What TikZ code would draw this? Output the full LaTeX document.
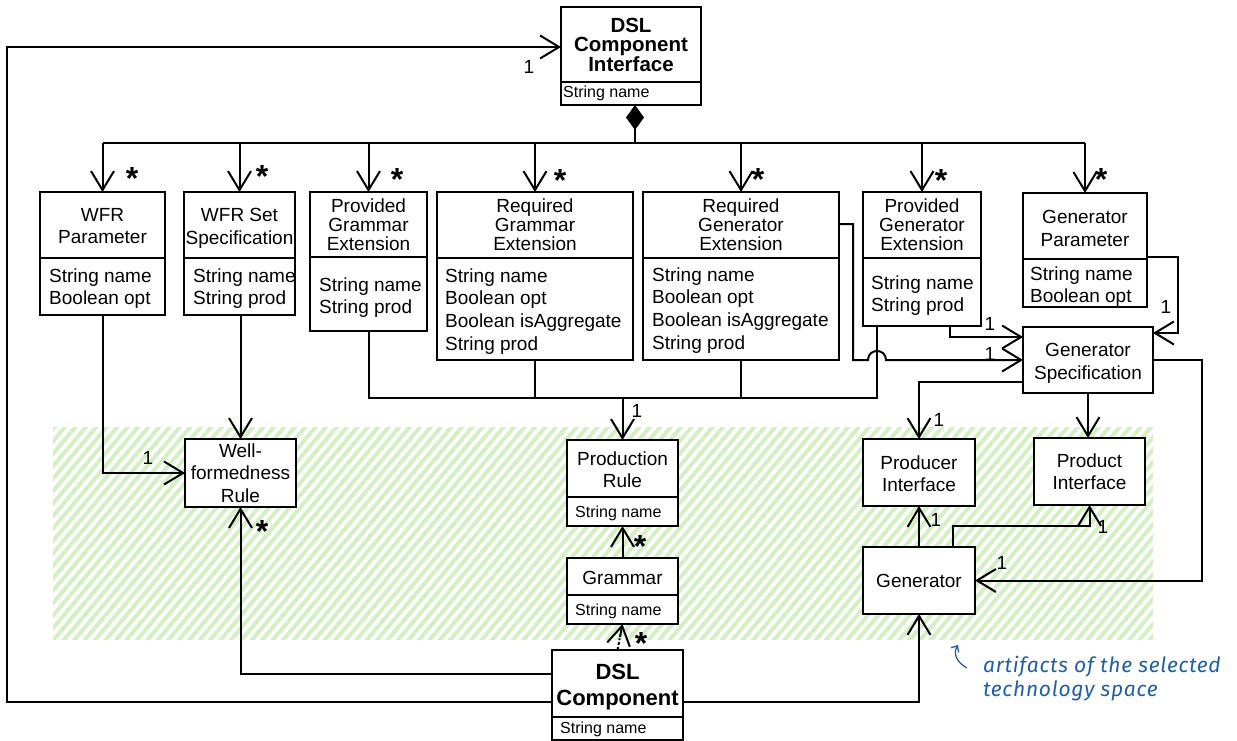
\documentclass[tikz,border=0pt]{standalone}
\usepackage{fontspec}
\setmainfont{Liberation Sans}
\newfontfamily\notefont{Fira Sans}[LetterSpace=3.5]
\usetikzlibrary{arrows.meta,patterns.meta,calc}

\definecolor{hatchgreen}{HTML}{D3F0C3}
\definecolor{noteblue}{HTML}{1F5FA8}

% class box from its left, top, right and bottom edges (y grows downwards)
\newcommand\classnode[5]{%
  \node[classbox, minimum width={#4-#2}, minimum height={#5-#3}] (#1) at ({(#2+#4)/2},{(#3+#5)/2}) {};}
% compartment divider inside a class box
\newcommand\classdiv[3]{\draw[divider] (#1,#3) -- (#2,#3);}

\begin{document}
\begin{tikzpicture}[x=1pt,y=-1pt,
  classbox/.style={draw, line width=2.2pt, fill=white, inner sep=0pt, outer sep=0pt},
  divider/.style={line width=2.2pt},
  wire/.style={line width=2pt},
  assoc/.style={wire, -{Straight Barb[length=19pt,width=23pt]}},
  hdr/.style={inner sep=0pt, align=center, anchor=north, font=\fontsize{19}{22.5}\selectfont},
  hdrtight/.style={inner sep=0pt, align=center, anchor=north, font=\fontsize{19}{19}\selectfont},
  hdrone/.style={inner sep=0pt, anchor=base, font=\fontsize{19}{22.5}\selectfont},
  title/.style={inner sep=0pt, align=center, anchor=north},
  attr/.style={inner sep=0pt, align=left, anchor=north west, font=\fontsize{19}{22.7}\selectfont},
  small/.style={inner sep=0pt, anchor=base west, font=\fontsize{16}{19}\selectfont},
  mone/.style={inner sep=0pt, font=\fontsize{19}{19}\selectfont},
  mstar/.style={inner sep=0pt, yshift=-7pt, font=\bfseries\fontsize{32}{32}\selectfont},
]
\useasboundingbox (0,0) rectangle (1237,741);

% technology space area
\fill[pattern={Lines[angle=50,distance=8pt,line width=4pt]}, pattern color=hatchgreen]
  (53,427) rectangle (1153,639);

% classes
\classnode{dci}{561}{7}{701}{105}
\classnode{wfrp}{40}{192}{165}{315}
\classnode{wfrs}{184}{192}{295}{315}
\classnode{pgre}{310}{192}{427}{331}
\classnode{rgre}{437}{192}{633}{360}
\classnode{rgene}{643}{192}{839}{360}
\classnode{pgene}{863}{192}{981}{326}
\classnode{genp}{1023}{193}{1147}{307}
\classnode{gens}{1023}{327}{1153}{393}
\classnode{wfr}{185}{439}{296}{507}
\classnode{prod}{567}{440}{678}{526}
\classnode{gram}{567}{558}{678}{624}
\classnode{dslc}{552}{650}{683}{740}
\classnode{prodi}{863}{439}{975}{506}
\classnode{producti}{1034}{438}{1145}{505}
\classnode{gen}{863}{547}{975}{614}

\classdiv{561}{701}{82}
\classdiv{40}{165}{258}
\classdiv{184}{295}{258}
\classdiv{310}{427}{257}
\classdiv{437}{633}{258}
\classdiv{643}{839}{258}
\classdiv{863}{981}{258}
\classdiv{1023}{1147}{259}
\classdiv{567}{678}{497}
\classdiv{567}{678}{595}
\classdiv{552}{683}{717}

% routing rows and columns
\coordinate (bus) at (0,143);
\coordinate (cx635) at (635,0);
\coordinate (r47) at (0,47);
\coordinate (x7) at (7,0);
\coordinate (r702) at (0,702);
\coordinate (r674) at (0,674);
\coordinate (r473) at (0,473);
\coordinate (r398) at (0,398);
\coordinate (x877) at (877,0);
\coordinate (r224) at (0,224);
\coordinate (x853) at (853,0);
\coordinate (r360) at (0,360);
\coordinate (jl) at (868,360);
\coordinate (jr) at (886,360);
\coordinate (x950) at (950,0);
\coordinate (r337) at (0,337);
\coordinate (r257) at (0,257);
\coordinate (x1178) at (1178,0);
\coordinate (r333) at (0,333);
\coordinate (r382) at (0,382);
\coordinate (x1202) at (1202,0);
\coordinate (x953) at (953,0);
\coordinate (r526) at (0,526);

% composition of the component interface
\draw[wire, {Diamond[length=25pt,width=18pt]}-] (cx635 |- dci.south) -- (cx635 |- bus);
\draw[wire] (wfrp.north |- bus) -- (genp.north |- bus);
\foreach \n in {wfrp,wfrs,pgre,rgre,rgene,pgene,genp}
  \draw[assoc] (\n.north |- bus) -- (\n.north);

% well-formedness rules
\draw[assoc] (wfrp.south) -- (wfrp.south |- r473) -- (wfr.west |- r473);
\draw[assoc] (wfr.north |- wfrs.south) -- (wfr.north);
\draw[assoc] (dslc.west |- r674) -- (wfr.south |- r674) -- (wfr.south);
\draw[assoc] (dslc.west |- r702) -- (x7 |- r702) -- (x7 |- r47) -- (dci.west |- r47);

% production rules
\draw[wire] (pgre.south) -- (pgre.south |- r398) -- (x877 |- r398) -- (x877 |- pgene.south);
\draw[wire, line width=2.8pt] (rgre.south) -- (rgre.south |- r398);
\draw[wire] (rgene.south) -- (rgene.south |- r398);
\draw[assoc] (prod.north |- r398) -- (prod.north);
\draw[assoc] (gram.north) -- (prod.south);
\draw[wire, densely dashed] (dslc.north) -- ($(gram.south)!0.55!(dslc.north)$);
\draw[assoc] ($(gram.south)!0.5!(dslc.north)$) -- (gram.south);

% generator specification
\draw[assoc] (x950 |- pgene.south) -- (x950 |- r337) -- (gens.west |- r337);
\draw[assoc] (rgene.east |- r224) -- (x853 |- r224) -- (x853 |- r360) -- (jl)
  .. controls +(0,-12) and +(0,-12) .. (jr) -- (gens.west |- r360);
\draw[assoc] (genp.east |- r257) -- (x1178 |- r257) -- (x1178 |- r333) -- (gens.east |- r333);
\draw[assoc] (gens.west |- r382) -- (prodi.north |- r382) -- (prodi.north);
\draw[assoc] (gens.south) -- (gens.south |- producti.north);
\draw[assoc] (gens.east |- r360) -- (x1202 |- r360) -- (x1202 |- gen.east) -- (gen.east);

% generator
\draw[assoc] (gen.north) -- (prodi.south);
\draw[assoc] (x953 |- gen.north) -- (x953 |- r526) -- (producti.south |- r526) -- (producti.south);
\draw[assoc] (dslc.east |- r702) -- (gen.south |- r702) -- (gen.south);

% class names
\node[title, font=\bfseries\fontsize{20.5}{19}\selectfont] (tdci) at (631,17.5) {DSL\\Component\\Interface};
\node[small] (adci) at (563,98) {String name};
\node[hdr] (twfrp) at (102.5,208.2) {WFR\\Parameter};
\node[hdr] (twfrs) at (239.5,208.2) {WFR Set\\Specification};
\node[hdrtight] (tpgre) at (368.5,198.2) {Provided\\Grammar\\Extension};
\node[hdrtight] (trgre) at (535,198.2) {Required\\Grammar\\Extension};
\node[hdrtight] (trgene) at (741,198.2) {Required\\Generator\\Extension};
\node[hdrtight] (tpgene) at (922,198.2) {Provided\\Generator\\Extension};
\node[hdr] (tgenp) at (1085,210.2) {Generator\\Parameter};
\node[hdr] (tgens) at (1088,343.2) {Generator\\Specification};
\node[hdr] (twfr) at (240.5,443.2) {Well-\\formedness\\Rule};
\node[hdr] (tprod) at (622.5,451.2) {Production\\Rule};
\node[hdrone] (tgram) at (622.5,584.8) {Grammar};
\node[title, font=\bfseries\fontsize{22}{26}\selectfont] (tdslc) at (617.5,664) {DSL\\Component};
\node[hdr] (tprodi) at (919,455.2) {Producer\\Interface};
\node[hdr] (tproducti) at (1089.5,453.2) {Product\\Interface};
\node[hdrone] (tgen) at (919,587.8) {Generator};

% attributes
\node[attr] (awfrp) at (49,268.2) {String name\\Boolean opt};
\node[attr] (awfrs) at (193,268.2) {String name\\String prod};
\node[attr] (apgre) at (319,277.2) {String name\\String prod};
\node[attr] (argre) at (445,268.2) {String name\\Boolean opt\\Boolean isAggregate\\String prod};
\node[attr] (argene) at (652,267.2) {String name\\Boolean opt\\Boolean isAggregate\\String prod};
\node[attr] (apgene) at (871,275.2) {String name\\String prod};
\node[attr] (agenp) at (1030,266.2) {String name\\Boolean opt};
\node[small] (aprod) at (575,517.7) {String name};
\node[small] (agram) at (575,615.7) {String name};
\node[small] (adslc) at (560,733.7) {String name};

% multiplicities
\node[mone] (m1) at (529,67) {1};
\node[mone] (m2) at (148,458) {1};
\node[mone] (m3) at (637,411) {1};
\node[mone] (m4) at (990,324) {1};
\node[mone] (m5) at (990,354) {1};
\node[mone] (m6) at (1166,307) {1};
\node[mone] (m7) at (939,420) {1};
\node[mone] (m8) at (936,520) {1};
\node[mone] (m9) at (1103,527) {1};
\node[mone] (m10) at (1002,563) {1};
\node[mstar] (s1) at (132,171) {*};
\node[mstar] (s2) at (262,169) {*};
\node[mstar] (s3) at (397,172) {*};
\node[mstar] (s4) at (560,173) {*};
\node[mstar] (s5) at (758,172) {*};
\node[mstar] (s6) at (941,173) {*};
\node[mstar] (s7) at (1101,172) {*};
\node[mstar] (s8) at (262,524) {*};
\node[mstar] (s9) at (640,539) {*};
\node[mstar] (s10) at (641,636) {*};

% note on the technology space
\coordinate (hooktail) at (967,668);
\coordinate (hooktip) at (958,645);
\draw[noteblue, line width=1.3pt, -{Straight Barb[length=5pt,width=9pt]}]
  (hooktail) .. controls (956,662) and (953,653) .. (hooktip);
\node[inner sep=0pt, anchor=north west, align=left, text=noteblue,
      font=\notefont\itshape\fontsize{21}{23.5}\selectfont] (note) at (983,656)
  {artifacts of the selected\\technology space};
\end{tikzpicture}
\end{document}
